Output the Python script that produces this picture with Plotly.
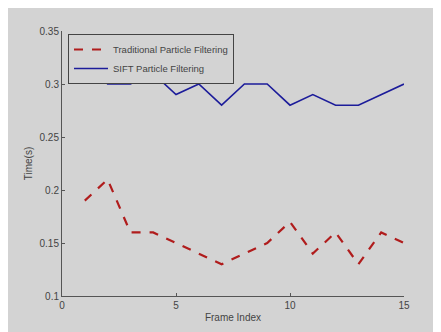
import plotly.graph_objects as go

frames = list(range(1, 16))
traditional = [0.19, 0.21, 0.16, 0.16, 0.15, 0.14, 0.13, 0.14, 0.15, 0.17, 0.14, 0.16, 0.13, 0.16, 0.15]
sift = [0.33, 0.30, 0.30, 0.31, 0.29, 0.30, 0.28, 0.30, 0.30, 0.28, 0.29, 0.28, 0.28, 0.29, 0.30]
x_ticks = [0, 5, 10, 15]
y_ticks = [0.1, 0.15, 0.2, 0.25, 0.3, 0.35]
y_tick_text = ["0.1", "0.15", "0.2", "0.25", "0.3", "0.35"]

GRAY = "#d3d3d3"
AX = "#555555"
TXT = "#444444"

fig = go.Figure()
fig.add_trace(go.Scatter(x=frames, y=traditional, mode="lines", name="Traditional Particle Filtering",
                         line=dict(color="#b01c1c", width=2.2, dash="dash")))
fig.add_trace(go.Scatter(x=frames, y=sift, mode="lines", name="SIFT Particle Filtering",
                         line=dict(color="#1c1c9a", width=1.6)))

# page body has an 8px margin; figure is sized to fill the rest of the window
OFF = 8
W, H = 441 - OFF, 332 - OFF
L = 62 - OFF
T = 31 - OFF
R = W - (404 - OFF)
B = H - (296 - OFF)
pw, ph = W - L - R, H - T - B

def px2x(p):
    return (p - OFF - L) / pw

def py2y(p):
    return (H - B - (p - OFF)) / ph

fig.update_layout(
    width=W, height=H,
    margin=dict(l=L, r=R, t=T, b=B, pad=0, autoexpand=False),
    paper_bgcolor=GRAY,
    plot_bgcolor=GRAY,
    font=dict(family="Liberation Sans, Arial, sans-serif", size=10, color=TXT),
    showlegend=True,
    legend=dict(x=px2x(68), y=py2y(34), xanchor="left", yanchor="top",
                bgcolor=GRAY, bordercolor="#444444", borderwidth=1,
                font=dict(size=9.5, color=TXT), tracegroupgap=0,
                itemwidth=34),
    xaxis=dict(range=[0, 15], tickvals=x_ticks, showgrid=False, zeroline=False, automargin=False,
               showline=True, linecolor=AX, linewidth=1, ticks="inside", ticklen=3,
               tickcolor=AX, title=dict(text="Frame Index", font=dict(size=10, color=TXT), standoff=3),
               tickfont=dict(size=10, color=TXT)),
    yaxis=dict(range=[0.1, 0.35], tickvals=y_ticks, ticktext=y_tick_text, showgrid=False, zeroline=False,
               automargin=False,
               showline=True, linecolor=AX, linewidth=1, ticks="inside", ticklen=3,
               tickcolor=AX, title=dict(text="Time(s)", font=dict(size=10, color=TXT), standoff=5),
               tickfont=dict(size=10, color=TXT)),
)

fig.write_html("out.html")
